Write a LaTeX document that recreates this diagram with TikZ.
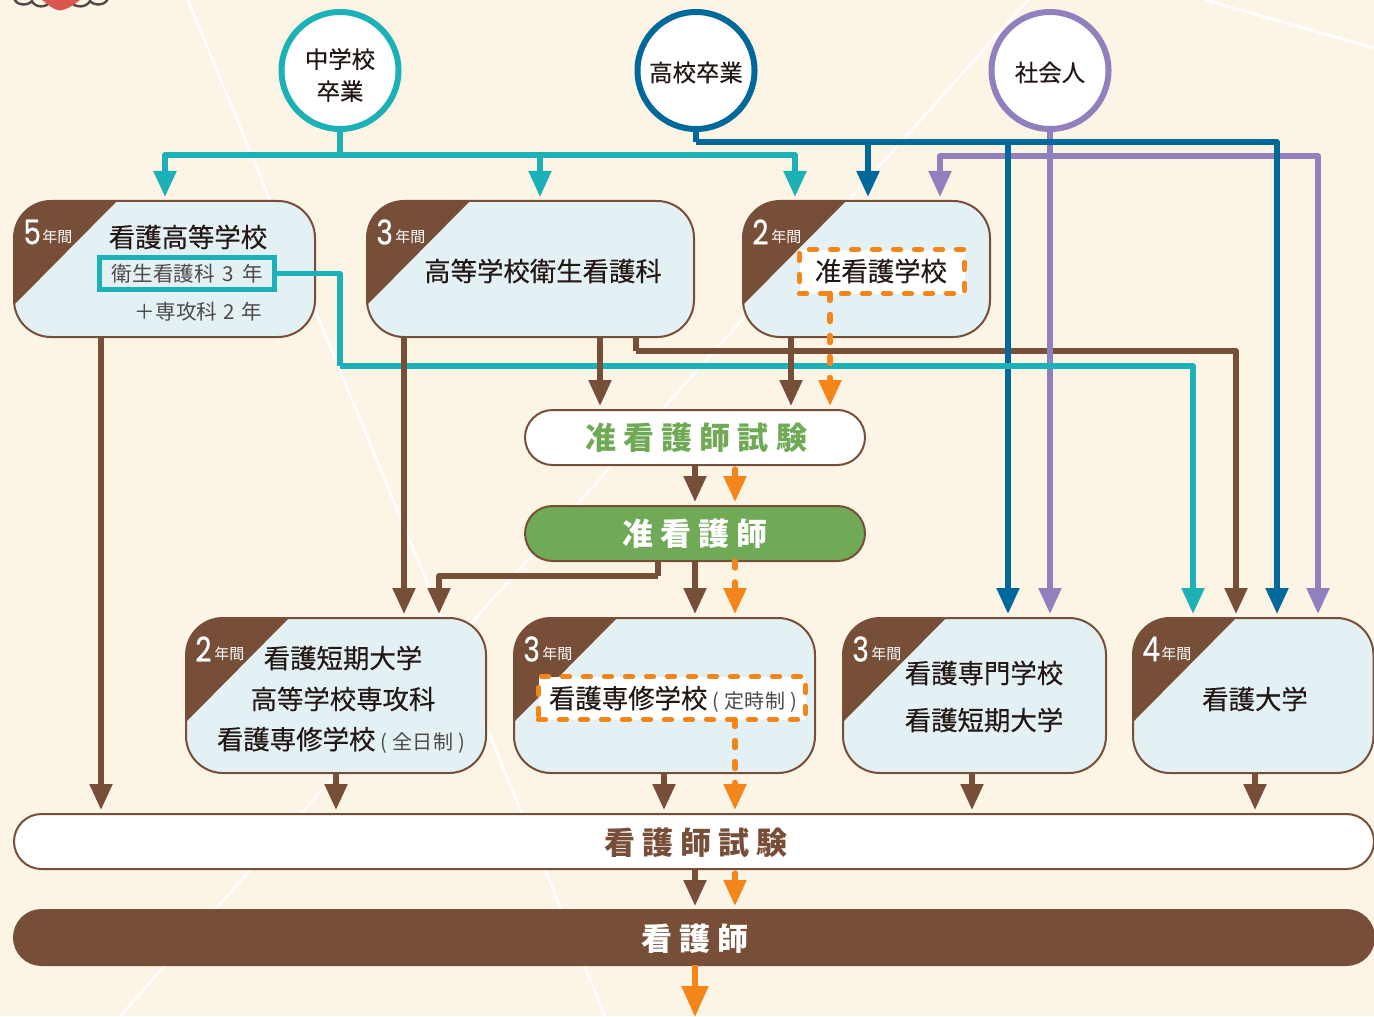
\documentclass[tikz,border=0pt]{standalone}
\usepackage{fontspec}
\usetikzlibrary{arrows.meta,calc}
\setmainfont{Noto Sans CJK JP}
\newfontfamily\medfont[FakeBold=0.35]{Noto Sans CJK JP}
\newfontfamily\numfont[FakeStretch=0.82,FakeBold=0.6]{Poppins}
\definecolor{bgc}{HTML}{FCF5E6}
\definecolor{panelc}{HTML}{E3F0F4}
\definecolor{brn}{HTML}{774E38}
\definecolor{tealc}{HTML}{1CB1B6}
\definecolor{bluec}{HTML}{00689A}
\definecolor{purc}{HTML}{9080BD}
\definecolor{orc}{HTML}{F3851B}
\definecolor{grn}{HTML}{70AA56}
\definecolor{ink}{HTML}{231815}
\definecolor{inksoft}{HTML}{4E4A48}
\definecolor{heartc}{HTML}{D9554E}
\tikzset{
  px/.style={x=0.5pt,y=-0.5pt},
  label/.style={inner sep=0pt,outer sep=0pt,text=ink,font=\medfont\fontsize{13.2}{15}\selectfont},
  startc/.style={circle,draw=#1,line width=3pt,fill=white,minimum size=58.5pt,inner sep=0pt},
  starttext/.style={inner sep=0pt,align=center,text=ink,font=\medfont\fontsize{11.7}{16}\selectfont},
  panelbox/.style={draw=brn,line width=1pt,rounded corners=18.5pt,inner sep=0pt,outer sep=0pt},
  pill/.style={draw=brn,line width=1pt,rounded corners=13.75pt,inner sep=0pt,outer sep=0pt,
     minimum height=27.5pt},
  pilltext/.style={inner sep=0pt,font=\fontsize{15.5}{17}\selectfont\bfseries},
  yeardigit/.style={inner sep=0pt,anchor=west,text=white,font=\numfont\fontsize{17}{18}\selectfont},
  yearunit/.style={inner sep=0pt,anchor=west,text=white,font=\fontsize{7.5}{9}\selectfont},
  conn/.style={line width=2.6pt,line join=round,draw=#1},
  arr/.style={conn=#1,-{Triangle[length=13pt,width=11pt,color=#1]},shorten >=2pt},
  dashor/.style={line width=2.7pt,draw=orc,line cap=round,dash pattern=on 3.5pt off 7pt},
  dashbox/.style={draw=orc,line width=2.7pt,line cap=round,dash pattern=on 3.5pt off 7pt,fill=white,
     inner sep=0pt,outer sep=0pt},
  orarr/.style={dashor,-{Triangle[length=13pt,width=11pt,color=orc]},shorten >=2pt},
  orsolid/.style={draw=orc,line width=2.6pt,line cap=round,-{Triangle[length=13pt,width=11pt,color=orc]},shorten >=2pt,shorten <=2pt},
  small/.style={inner sep=0pt,text=inksoft,font=\fontsize{10.3}{12}\selectfont},
}
\newcommand\panel[6]{%
  \pgfmathsetmacro\pw{(#4-#2)*0.5}%
  \pgfmathsetmacro\ph{(#5-#3)*0.5}%
  \path[fill=panelc,rounded corners=18.5pt] (#2,#3) rectangle (#4,#5);
  \begin{scope}
    \clip[rounded corners=18.5pt] (#2,#3) rectangle (#4,#5);
    \fill[brn] (#2,#3) -- (#6,#3) -- ($(#2,#3)+(0,104)$) -- cycle;
  \end{scope}
  \node[panelbox,minimum width=\pw pt,minimum height=\ph pt] (#1) at ({(#2+#4)/2},{(#3+#5)/2}) {};
}
\newcommand\yearmark[2]{%
  \node[yeardigit] (#1d) at ($(#1.north west)+(9,31)$) {#2};
  \node[yearunit] (#1u) at ($(#1.north west)+(28,36)$) {年間};
}
\newcommand\lsp{\hspace{3.6pt}}
\newcommand\softparen[3]{{\normalfont\color{inksoft}\fontsize{10}{12}\selectfont\hspace{2.5pt}(\hspace{2.5pt}#1\hspace{0.4pt}#2\hspace{0.4pt}#3\hspace{2.5pt})}}
\begin{document}
\begin{tikzpicture}[px]
\useasboundingbox (0,0) rectangle (1374,1016);
\fill[bgc] (0,0) rectangle (1374,1016);
% faint background lines
\draw[white,line width=1.2pt] (188,0) -- (605,1016);
\draw[white,line width=1.2pt] (1028,0) -- (120,1016);
\draw[white,line width=1.2pt] (1205,0) -- (1374,48);
% top-left ornament, cut by the page edge
\draw[inksoft,line width=1.2pt] (14,-2) .. controls (16,6) and (28,6) .. (32,1)
  .. controls (35,8) and (46,8) .. (50,2);
\draw[inksoft,line width=1.2pt] (70,2) .. controls (76,8) and (86,8) .. (90,1)
  .. controls (94,6) and (106,6) .. (108,-2);
\fill[heartc] (42,0) .. controls (50,6) and (54,10) .. (60,10.5) .. controls (66,10) and (72,6) .. (80,0) -- cycle;

% panels
\panel{gakkoA}{14}{201}{315}{337}{117}
\panel{gakkoB}{367}{201}{694}{337}{470}
\panel{gakkoC}{743}{201}{990}{337}{846}
\panel{gakkoD}{186}{618}{486}{773}{289}
\panel{gakkoE}{514}{618}{815}{773}{617}
\panel{gakkoF}{843}{618}{1106}{773}{946}
\panel{gakkoG}{1133}{618}{1373.5}{773}{1236}
\yearmark{gakkoA}{5}
\yearmark{gakkoB}{3}
\yearmark{gakkoC}{2}
\yearmark{gakkoD}{2}
\yearmark{gakkoE}{3}
\yearmark{gakkoF}{3}
\yearmark{gakkoG}{4}

% start circles
\node[startc=tealc] (chu) at (340,70.5) {};
\node[startc=bluec] (kou) at (696,70.5) {};
\node[startc=purc] (sha) at (1050,70.5) {};
\node[starttext] (chuT) at (340,75) {中学校\\卒業};
\node[starttext] (kouT) at (696,72.5) {高校卒業};
\node[starttext] (shaT) at (1050,72.5) {社会人};

% pills
\node[pill,fill=white,minimum width=170pt] (jex) at (695,437.5) {};
\node[pill,fill=grn,minimum width=170pt] (jn) at (695,533.5) {};
\node[pill,fill=white,minimum width=680pt] (nex) at (694,841.5) {};
\node[pill,fill=brn,minimum width=680pt] (nn) at (694,937.5) {};

% inner boxes
\node[draw=tealc,line width=2.5pt,inner sep=0pt,outer sep=0pt,minimum width=87.5pt,minimum height=16pt] (eisei) at (187,273.5) {};
\node[dashbox,minimum width=82.5pt,minimum height=22pt] (jgakko) at (882,271.5) {};
\node[dashbox,minimum width=133.5pt,minimum height=21.5pt] (teiji) at (672,698) {};

% connectors: layer order
\draw[conn=brn] (gakkoB.south -| 636,0) -- (636,351) coordinate (brnbend);
\draw[arr=brn] (brnbend) -| (gakkoG.north -| 1236,0);

% purple
\coordinate (purbus) at (1050,156);
\draw[arr=purc] (sha.south) -- (gakkoF.north -| 1050,0);
\draw[arr=purc] (purbus) -| (gakkoC.north -| 940,0);
\draw[arr=purc] (purbus) -| (gakkoG.north -| 1318,0);
% blue
\coordinate (blubend) at (696,142);
\draw[conn=bluec] (kou.south) -- (blubend);
\draw[arr=bluec] (blubend) -| (gakkoG.north -| 1277,0);
\draw[arr=bluec] (868,142) -- (gakkoC.north -| 868,0);
\draw[arr=bluec] (1008,142) -- (gakkoF.north -| 1008,0);
% teal
\coordinate (tealbus) at (340,155);
\draw[conn=tealc] (chu.south) -- (tealbus);
\draw[arr=tealc] (tealbus) -| (gakkoA.north -| 165,0);
\draw[arr=tealc] (tealbus) -| (gakkoC.north -| 795,0);
\draw[arr=tealc] (540,155) -- (gakkoB.north -| 540,0);
\coordinate (tealv) at (340,366);
\draw[conn=tealc] (eisei.east) -| (tealv);
\draw[arr=tealc] (tealv) -| (gakkoG.north -| 1193,0);

% brown
\draw[arr=brn] (gakkoA.south -| 101,0) -- (nex.north -| 101,0);
\draw[arr=brn] (gakkoB.south -| 404,0) -- (gakkoD.north -| 404,0);
\draw[arr=brn] (gakkoB.south -| 600,0) -- (jex.north -| 600,0);
\draw[arr=brn] (gakkoC.south -| 791,0) -- (jex.north -| 791,0);
\draw[arr=brn] (jex.south) -- (jn.north);
\draw[arr=brn] (jn.south) -- (gakkoE.north -| 695,0);
\coordinate (jnbend) at (658,576);
\draw[conn=brn] (jn.south -| 658,0) -- (jnbend);
\draw[arr=brn] (jnbend) -| (gakkoD.north -| 439,0);
\draw[arr=brn] (gakkoD.south -| 336,0) -- (nex.north -| 336,0);
\draw[arr=brn] (gakkoE.south -| 664,0) -- (nex.north -| 664,0);
\draw[arr=brn] (gakkoF.south -| 972,0) -- (nex.north -| 972,0);
\draw[arr=brn] (gakkoG.south -| 1255,0) -- (nex.north -| 1255,0);
\draw[arr=brn] (nex.south -| 695,0) -- (nn.north -| 695,0);

% orange
\draw[orarr] (jgakko.south -| 830,0) -- (jex.north -| 830,0);
\draw[orsolid] (jex.south -| 735,0) -- (jn.north -| 735,0);
\draw[orarr] (jn.south -| 735,0) -- (gakkoE.north -| 735,0);
\draw[orarr] (teiji.south -| 735,0) -- (nex.north -| 735,0);
\draw[orsolid] (nex.south -| 735,0) -- (nn.north -| 735,0);
\coordinate (pageend) at (695,1017);
\draw[orc,line width=2.6pt,-{Triangle[length=15.5pt,width=13pt,color=orc]}] (nn.south -| 695,0) -- (pageend);

% texts
\node[label] (tA) at (188,237) {看護高等学校};
\node[small] (tA2) at (187.5,274) {衛生看護科\hspace{4pt}3\hspace{4pt}年};
\node[small] (tA3) at (198.5,312) {＋専攻科\hspace{3.2pt}2\hspace{3.2pt}年};
\node[label] (tB) at (543,271) {高等学校衛生看護科};
\node[label] (tC) at (881,271) {准看護学校};
\node[label] (tD1) at (343,658) {看護短期大学};
\node[label] (tD2) at (343,699) {高等学校専攻科};
\node[label,anchor=west] (tD3) at (217,740) {看護専修学校\softparen{全}{日}{制}};
\node[label,anchor=west] (tE) at (549,699) {看護専修学校\softparen{定}{時}{制}};
\node[label] (tF1) at (984,673) {看護専門学校};
\node[label] (tF2) at (984,720) {看護短期大学};
\node[label] (tG) at (1255,699) {看護大学};
\node[pilltext,text=grn] (tJex) at (696,438) {准\lsp 看\lsp 護\lsp 師\lsp 試\lsp 験};
\node[pilltext,text=white] (tJn) at (695,534) {准\lsp 看\lsp 護\lsp 師};
\node[pilltext,text=brn] (tNex) at (696,843) {看\lsp 護\lsp 師\lsp 試\lsp 験};
\node[pilltext,text=white] (tNn) at (695,939) {看\lsp 護\lsp 師};
\end{tikzpicture}
\end{document}
